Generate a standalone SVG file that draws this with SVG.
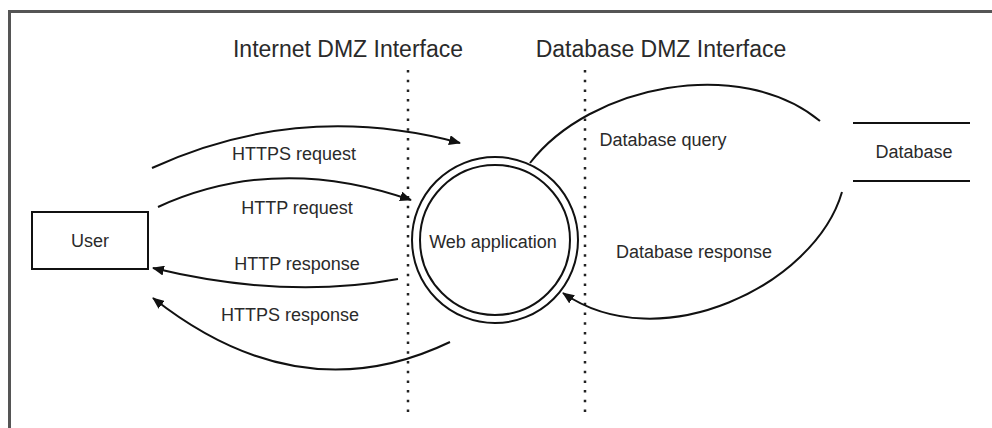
<svg xmlns="http://www.w3.org/2000/svg" width="992" height="428" viewBox="0 0 992 428">
<style>
  .lbl { font-family: "Liberation Sans", Arial, sans-serif; font-size: 18px; fill: #2a2a2a; text-anchor: middle; }
  .title { font-family: "Liberation Sans", Arial, sans-serif; font-size: 23px; fill: #2a2a2a; text-anchor: middle; }
  .edge { fill: none; stroke: #111; stroke-width: 2; }
  .dots { stroke: #222; stroke-width: 2.5; stroke-dasharray: 2.5 7.2; }
  .shape { fill: #fff; stroke: #111; stroke-width: 2; }
</style>
<defs>
  <marker id="arrow" viewBox="0 0 12 10" refX="11" refY="5" markerWidth="12" markerHeight="10" markerUnits="userSpaceOnUse" orient="auto">
    <path d="M0,0 L12,5 L0,10 Z" fill="#111"/>
  </marker>
</defs>
<rect width="992" height="428" fill="#fff"/>
<g id="frame">
  <line x1="8" y1="11.5" x2="992" y2="11.5" stroke="#555" stroke-width="3"/>
  <line x1="9.5" y1="10" x2="9.5" y2="428" stroke="#555" stroke-width="3"/>
</g>
<g id="boundaries">
  <line class="dots" x1="408" y1="70" x2="408" y2="416"/>
  <line class="dots" x1="585" y1="70" x2="585" y2="416"/>
  <text class="title" x="348" y="57">Internet DMZ Interface</text>
  <text class="title" x="661" y="57">Database DMZ Interface</text>
</g>
<g id="connectors">
  <path class="edge" d="M152,168 Q300,100 460,143" marker-end="url(#arrow)"/>
  <path class="edge" d="M158,207 Q276,153 411,200" marker-end="url(#arrow)"/>
  <path class="edge" d="M398,279 Q285,300 153,268" marker-end="url(#arrow)"/>
  <path class="edge" d="M450,342 Q300,414 153,298" marker-end="url(#arrow)"/>
  <path class="edge" d="M530,163 C590,85 740,55 820,121"/>
  <path class="edge" d="M842,192 C815,285 660,360 563,293" marker-end="url(#arrow)"/>
  <text class="lbl" x="294" y="160">HTTPS request</text>
  <text class="lbl" x="297" y="214">HTTP request</text>
  <text class="lbl" x="297" y="270">HTTP response</text>
  <text class="lbl" x="290" y="321">HTTPS response</text>
  <text class="lbl" x="663" y="146">Database query</text>
  <text class="lbl" x="694" y="258">Database response</text>
</g>
<g id="user">
  <rect class="shape" x="32" y="212" width="116" height="57"/>
  <text class="lbl" x="90" y="247">User</text>
</g>
<g id="web-application">
  <circle class="shape" cx="495" cy="240" r="83"/>
  <circle class="shape" cx="495" cy="240" r="75"/>
  <text class="lbl" x="493" y="248">Web application</text>
</g>
<g id="database">
  <line x1="853" y1="123" x2="970" y2="123" stroke="#111" stroke-width="2"/>
  <line x1="853" y1="181" x2="970" y2="181" stroke="#111" stroke-width="2"/>
  <text class="lbl" x="914" y="158">Database</text>
</g>
</svg>
